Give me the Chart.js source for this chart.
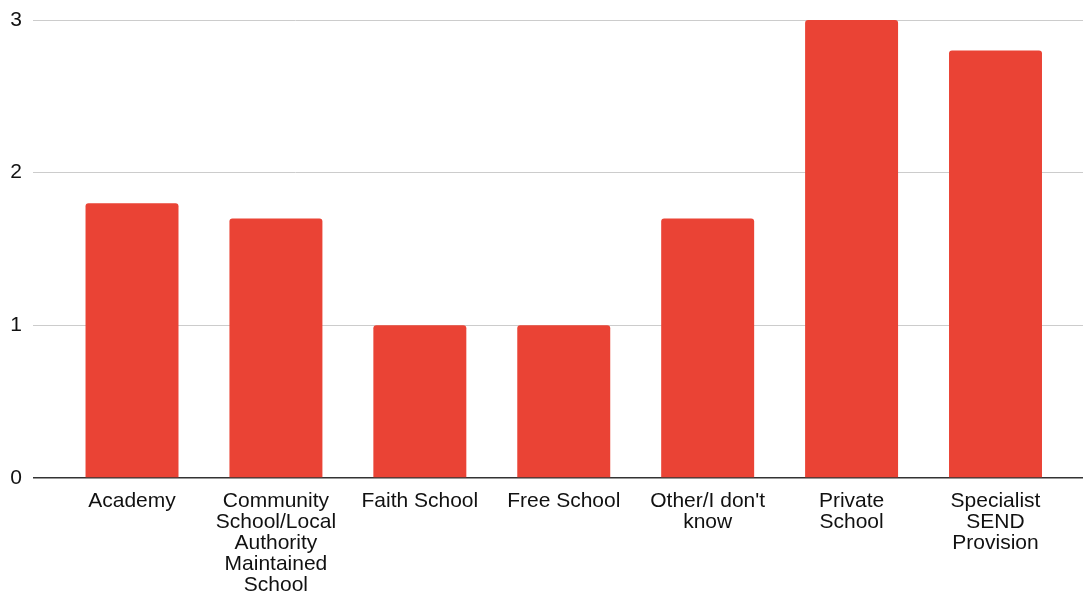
<!DOCTYPE html>
<html>
<head>
<meta charset="utf-8">
<script src="https://cdn.jsdelivr.net/npm/chart.js@4"></script>
<style>
  html, body { margin: 0; padding: 0; background: #ffffff; }
  #wrap { width: 1083px; height: 592px; }
</style>
</head>
<body>
<div id="wrap"><canvas id="c" width="1083" height="592"></canvas></div>
<script>
const categories = ["Academy", "Community School/Local Authority Maintained School", "Faith School", "Free School", "Other/I don't know", "Private School", "Specialist SEND Provision"];
const tickLabelLines = [
  ["Academy"],
  ["Community", "School/Local", "Authority", "Maintained", "School"],
  ["Faith School"],
  ["Free School"],
  ["Other/I don't", "know"],
  ["Private", "School"],
  ["Specialist", "SEND", "Provision"]
];
const values = [1.8, 1.7, 1.0, 1.0, 1.7, 3.0, 2.8];
const yTicks = [0, 1, 2, 3];

const points = values.map((v, i) => ({ x: i, y: v }));

new Chart(document.getElementById('c'), {
  type: 'bar',
  data: {
    datasets: [{
      label: 'Value',
      data: points,
      backgroundColor: '#ea4335',
      borderWidth: 0,
      borderRadius: { topLeft: 3, topRight: 3, bottomLeft: 0, bottomRight: 0 },
      borderSkipped: 'bottom',
      barPercentage: 0.646,
      categoryPercentage: 1.0
    }]
  },
  options: {
    responsive: false,
    animation: false,
    layout: { padding: { top: 20, right: 0, bottom: 0, left: 0 } },
    plugins: { legend: { display: false }, tooltip: { enabled: false } },
    scales: {
      x: {
        type: 'linear',
        min: -0.688,
        max: 6.608,
        offset: false,
        grid: { display: false, drawTicks: false },
        border: { display: false },
        afterBuildTicks: (axis) => { axis.ticks = categories.map((_, i) => ({ value: i })); },
        afterFit: (scale) => { scale.height = 114; },
        ticks: {
          autoSkip: false,
          maxRotation: 0,
          minRotation: 0,
          padding: 13,
          color: '#111111',
          font: { family: 'Liberation Sans, Arial, sans-serif', size: 21, lineHeight: 1.0 },
          callback: (v) => {
            const t = tickLabelLines[Math.round(v)];
            return t ? (t.length === 1 ? t[0] : t) : '';
          }
        }
      },
      y: {
        min: 0,
        max: 3,
        afterBuildTicks: (axis) => { axis.ticks = yTicks.map(v => ({ value: v })); },
        afterFit: (scale) => { scale.width = 33; scale.paddingTop = 0; scale.paddingBottom = 0; },
        border: { display: false },
        grid: {
          drawTicks: false,
          color: (ctx) => ctx.tick && ctx.tick.value === 0 ? '#333333' : '#cccccc',
          lineWidth: (ctx) => ctx.tick && ctx.tick.value === 0 ? 1.5 : 1
        },
        ticks: {
          padding: 11,
          color: '#111111',
          font: { family: 'Liberation Sans, Arial, sans-serif', size: 21, lineHeight: 1.2 }
        }
      }
    }
  }
});
</script>
</body>
</html>
